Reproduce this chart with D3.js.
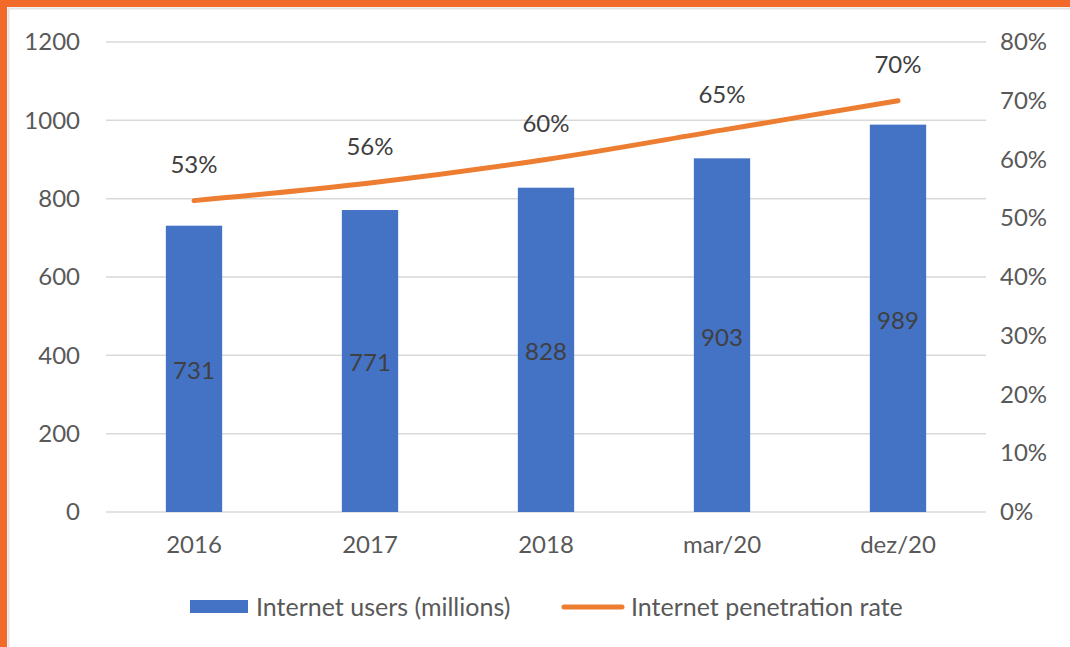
<!DOCTYPE html>
<html>
<head>
<meta charset="utf-8">
<script src="https://cdn.jsdelivr.net/npm/d3@7"></script>
<style>
  html, body { margin: 0; padding: 0; background: #fff; }
  svg { display: block; }
  text { font-family: Lato, "Open Sans", sans-serif; }
</style>
</head>
<body>
<svg id="chart" width="1070" height="647"></svg>
<script>
// Internet users and penetration rate
const categories = ["2016", "2017", "2018", "mar/20", "dez/20"];
const users = [731, 771, 828, 903, 989];
const penetration = [0.53, 0.56, 0.60, 0.65, 0.70];
const leftTicks = [0, 200, 400, 600, 800, 1000, 1200];
const rightTicks = [0, 0.1, 0.2, 0.3, 0.4, 0.5, 0.6, 0.7, 0.8];
const seriesNames = ["Internet users (millions)", "Internet penetration rate"];

const W = 1070, H = 647;
const plot = { left: 106, right: 986, top: 42, bottom: 512 };
const blue = "#4472C4", orange = "#ED7D31", frame = "#F26A2A";
const tickFont = 24, legendFont = 25;

const svg = d3.select("#chart");

// frame
svg.append("rect").attr("x", 0).attr("y", 0).attr("width", W).attr("height", H).attr("fill", "#fff");
svg.append("rect").attr("x", 0).attr("y", 0).attr("width", W).attr("height", 7).attr("fill", frame);
svg.append("rect").attr("x", 0).attr("y", 0).attr("width", 7).attr("height", H).attr("fill", frame);
svg.append("line").attr("x1", 8).attr("x2", W).attr("y1", 8.5).attr("y2", 8.5).attr("stroke", "#e3e3e3").attr("stroke-width", 2);
svg.append("line").attr("x1", 8.5).attr("x2", 8.5).attr("y1", 8).attr("y2", H).attr("stroke", "#e3e3e3").attr("stroke-width", 2);

const x = d3.scaleBand().domain(categories).range([plot.left, plot.right]).paddingInner(0.68).paddingOuter(0.34);
const yL = d3.scaleLinear().domain([0, 1200]).range([plot.bottom, plot.top]);
const yR = d3.scaleLinear().domain([0, 0.8]).range([plot.bottom, plot.top]);

// gridlines
svg.append("g").selectAll("line").data(leftTicks).join("line")
  .attr("x1", plot.left).attr("x2", plot.right)
  .attr("y1", d => yL(d)).attr("y2", d => yL(d))
  .attr("stroke", "#d9d9d9").attr("stroke-width", 1.5);

// left axis
const axL = d3.axisLeft(yL).tickValues(leftTicks).tickSize(0).tickPadding(26).tickFormat(d3.format("d"));
const gL = svg.append("g").attr("transform", `translate(${plot.left},0)`).call(axL);
gL.select(".domain").remove();
gL.selectAll("text").attr("font-size", tickFont).attr("fill", "#595959").attr("font-family", "Lato, sans-serif");

// right axis
const axR = d3.axisRight(yR).tickValues(rightTicks).tickSize(0).tickPadding(14).tickFormat(d3.format(".0%"));
const gR = svg.append("g").attr("transform", `translate(${plot.right},0)`).call(axR);
gR.select(".domain").remove();
gR.selectAll("text").attr("font-size", tickFont).attr("fill", "#595959").attr("font-family", "Lato, sans-serif");

// bottom axis
const axB = d3.axisBottom(x).tickSize(0).tickPadding(24);
const gB = svg.append("g").attr("transform", `translate(0,${plot.bottom})`).call(axB);
gB.select(".domain").remove();
gB.selectAll("text").attr("font-size", tickFont).attr("fill", "#595959").attr("font-family", "Lato, sans-serif");

// bars
const data = categories.map((c, i) => ({ c, u: users[i], p: penetration[i] }));
svg.append("g").selectAll("rect").data(data).join("rect")
  .attr("x", d => x(d.c)).attr("width", x.bandwidth())
  .attr("y", d => yL(d.u)).attr("height", d => yL(0) - yL(d.u))
  .attr("fill", blue);

// bar labels
svg.append("g").selectAll("text").data(data).join("text")
  .attr("x", d => x(d.c) + x.bandwidth() / 2)
  .attr("y", d => (yL(d.u) + yL(0)) / 2 + 2)
  .attr("dy", "0.35em").attr("text-anchor", "middle")
  .attr("font-size", tickFont).attr("fill", "#404040")
  .text(d => d.u);

// penetration line
const line = d3.line().x(d => x(d.c) + x.bandwidth() / 2).y(d => yR(d.p)).curve(d3.curveCatmullRom.alpha(0.5));
svg.append("path").datum(data).attr("d", line)
  .attr("fill", "none").attr("stroke", orange).attr("stroke-width", 5).attr("stroke-linecap", "round");

// line labels
svg.append("g").selectAll("text").data(data).join("text")
  .attr("x", d => x(d.c) + x.bandwidth() / 2)
  .attr("y", d => yR(d.p) - 36)
  .attr("dy", "0.35em").attr("text-anchor", "middle")
  .attr("font-size", tickFont).attr("fill", "#404040")
  .text(d => d3.format(".0%")(d.p));

// legend
const lg = svg.append("g");
lg.append("rect").attr("x", 190).attr("y", 600).attr("width", 58).attr("height", 13).attr("fill", blue);
lg.append("text").attr("x", 256).attr("y", 607).attr("dy", "0.35em")
  .attr("font-size", legendFont).attr("fill", "#595959").text(seriesNames[0]);
lg.append("line").attr("x1", 564).attr("x2", 622).attr("y1", 607).attr("y2", 607)
  .attr("stroke", orange).attr("stroke-width", 5).attr("stroke-linecap", "round");
lg.append("text").attr("x", 631).attr("y", 607).attr("dy", "0.35em")
  .attr("font-size", legendFont).attr("fill", "#595959").text(seriesNames[1]);
</script>
</body>
</html>
